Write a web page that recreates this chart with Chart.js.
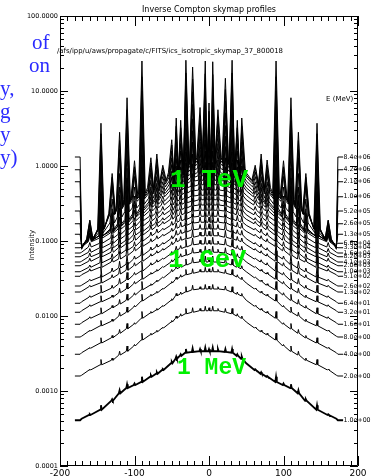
<!DOCTYPE html>
<html>
<head>
<meta charset="utf-8">
<script src="https://cdn.jsdelivr.net/npm/chart.js@4.4.1/dist/chart.umd.min.js"></script>
<style>
  html, body { margin: 0; padding: 0; background: #fff; }
  #wrap { position: relative; width: 371px; height: 476px; overflow: hidden; }
  #wrap canvas { position: absolute; left: 0; top: 0; }
  .blue { position: absolute; font-family: "Liberation Serif", serif; font-size: 21px; line-height: 21px; color: #2a2aff; white-space: nowrap; }
  .green { position: absolute; font-family: "Liberation Mono", monospace; font-weight: bold; font-size: 26px; line-height: 26px; color: #00f000; white-space: nowrap; }
</style>
</head>
<body>
<div id="wrap">
  <canvas id="chart" width="371" height="476"></canvas>
  <div class="blue" style="left:32px; top:32px;">of</div>
  <div class="blue" style="left:29px; top:55px;">on</div>
  <div class="blue" style="left:0px; top:78px;">y,</div>
  <div class="blue" style="left:0px; top:101px;">g</div>
  <div class="blue" style="left:0px; top:124px;">y</div>
  <div class="blue" style="left:0px; top:147px;">y)</div>
  <div class="green" style="left:170px; top:167px;">1 TeV</div>
  <div class="green" style="left:168px; top:247px;">1 GeV</div>
  <div class="green" style="left:177px; top:357px; font-size:23px; line-height:23px;">1 MeV</div>
</div>
<script>
// longitude grid shared by every profile (deg)
const LON = [-180,-173,-171,-160,-145,-130,-120,-110,-100,-90,-78,-70,-62,-50,-44,-38,-31,-22,-12,-5,0,
             5,12,22,31,38,44,50,62,70,78,90,100,110,120,130,145,160,171,173,180];
// longitudes of the narrow source spikes (all on LON)
const SPIKE_LON = [-160,-145,-130,-120,-110,-100,-90,-78,-70,-62,-50,-44,-38,-31,-22,-12,-5,0,
                   5,12,22,31,38,44,62,70,78,90,100,110,120,130,145,160];

const ENERGY_LABELS = ['1.0e+00','2.0e+00','4.0e+00','8.0e+00','1.6e+01','3.2e+01','6.4e+01','1.3e+02',
  '2.6e+02','5.1e+02','1.0e+03','2.0e+03','4.1e+03','8.2e+03','1.6e+04','3.3e+04','6.6e+04','1.3e+05',
  '2.6e+05','5.2e+05','1.0e+06','2.1e+06','4.2e+06','8.4e+06'];

const X_TICKS = [-200, -100, 0, 100, 200];
const Y_TICKS = [0.0001, 0.001, 0.01, 0.1, 1, 10, 100];

// log10(intensity) of each profile on LON
const base00 = [-3.39,-3.39,-3.37,-3.32,-3.25,-3.13,-3.03,-2.96,-2.92,-2.88,-2.81,-2.77,-2.72,-2.63,-2.57,-2.53,-2.49,-2.48,-2.47,-2.47,-2.47,-2.47,-2.47,-2.48,-2.49,-2.53,-2.57,-2.63,-2.72,-2.77,-2.81,-2.88,-2.92,-2.96,-3.03,-3.13,-3.25,-3.32,-3.37,-3.39,-3.39];
const base01 = [-2.80,-2.80,-2.79,-2.72,-2.65,-2.59,-2.52,-2.47,-2.40,-2.32,-2.25,-2.21,-2.16,-2.08,-2.03,-2.00,-1.97,-1.95,-1.93,-1.93,-1.93,-1.93,-1.93,-1.95,-1.97,-2.00,-2.03,-2.08,-2.16,-2.21,-2.25,-2.32,-2.40,-2.47,-2.52,-2.59,-2.65,-2.72,-2.79,-2.80,-2.80];
const base02 = [-2.51,-2.51,-2.49,-2.43,-2.36,-2.29,-2.23,-2.17,-2.11,-2.03,-1.96,-1.92,-1.87,-1.79,-1.73,-1.71,-1.68,-1.65,-1.64,-1.64,-1.64,-1.64,-1.64,-1.65,-1.68,-1.71,-1.73,-1.79,-1.87,-1.92,-1.96,-2.03,-2.11,-2.17,-2.23,-2.29,-2.36,-2.43,-2.49,-2.51,-2.51];
const base03 = [-2.28,-2.28,-2.27,-2.20,-2.13,-2.07,-2.00,-1.95,-1.88,-1.80,-1.73,-1.69,-1.64,-1.56,-1.51,-1.48,-1.45,-1.43,-1.41,-1.41,-1.41,-1.41,-1.41,-1.43,-1.45,-1.48,-1.51,-1.56,-1.64,-1.69,-1.73,-1.80,-1.88,-1.95,-2.00,-2.07,-2.13,-2.20,-2.27,-2.28,-2.28];
const base04 = [-2.11,-2.11,-2.09,-2.03,-1.97,-1.89,-1.84,-1.79,-1.72,-1.65,-1.59,-1.54,-1.49,-1.41,-1.37,-1.35,-1.32,-1.29,-1.28,-1.28,-1.28,-1.28,-1.28,-1.29,-1.32,-1.35,-1.37,-1.41,-1.49,-1.54,-1.59,-1.65,-1.72,-1.79,-1.84,-1.89,-1.97,-2.03,-2.09,-2.11,-2.11];
const base05 = [-1.95,-1.95,-1.93,-1.87,-1.81,-1.75,-1.69,-1.64,-1.57,-1.51,-1.44,-1.40,-1.35,-1.28,-1.23,-1.21,-1.19,-1.16,-1.15,-1.15,-1.15,-1.15,-1.15,-1.16,-1.19,-1.21,-1.23,-1.28,-1.35,-1.40,-1.44,-1.51,-1.57,-1.64,-1.69,-1.75,-1.81,-1.87,-1.93,-1.95,-1.95];
const base06 = [-1.83,-1.83,-1.81,-1.75,-1.69,-1.63,-1.57,-1.52,-1.45,-1.40,-1.32,-1.28,-1.24,-1.17,-1.12,-1.10,-1.08,-1.05,-1.04,-1.04,-1.04,-1.04,-1.04,-1.05,-1.08,-1.10,-1.12,-1.17,-1.24,-1.28,-1.32,-1.40,-1.45,-1.52,-1.57,-1.63,-1.69,-1.75,-1.81,-1.83,-1.83];
const base07 = [-1.68,-1.68,-1.67,-1.61,-1.56,-1.49,-1.44,-1.39,-1.33,-1.27,-1.20,-1.16,-1.12,-1.05,-1.01,-0.99,-0.97,-0.95,-0.93,-0.93,-0.93,-0.93,-0.93,-0.95,-0.97,-0.99,-1.01,-1.05,-1.12,-1.16,-1.20,-1.27,-1.33,-1.39,-1.44,-1.49,-1.56,-1.61,-1.67,-1.68,-1.68];
const base08 = [-1.60,-1.60,-1.59,-1.53,-1.48,-1.41,-1.36,-1.31,-1.24,-1.19,-1.12,-1.08,-1.04,-0.97,-0.92,-0.90,-0.88,-0.85,-0.84,-0.84,-0.84,-0.84,-0.84,-0.85,-0.88,-0.90,-0.92,-0.97,-1.04,-1.08,-1.12,-1.19,-1.24,-1.31,-1.36,-1.41,-1.48,-1.53,-1.59,-1.60,-1.60];
const base09 = [-1.47,-1.47,-1.45,-1.40,-1.35,-1.28,-1.24,-1.19,-1.13,-1.07,-1.01,-0.97,-0.93,-0.87,-0.83,-0.81,-0.79,-0.76,-0.75,-0.75,-0.75,-0.75,-0.75,-0.76,-0.79,-0.81,-0.83,-0.87,-0.93,-0.97,-1.01,-1.07,-1.13,-1.19,-1.24,-1.28,-1.35,-1.40,-1.45,-1.47,-1.47];
const base10 = [-1.41,-1.41,-1.40,-1.35,-1.29,-1.23,-1.17,-1.12,-1.07,-1.00,-0.93,-0.89,-0.85,-0.79,-0.75,-0.73,-0.71,-0.68,-0.67,-0.67,-0.67,-0.67,-0.67,-0.68,-0.71,-0.73,-0.75,-0.79,-0.85,-0.89,-0.93,-1.00,-1.07,-1.12,-1.17,-1.23,-1.29,-1.35,-1.40,-1.41,-1.41];
const base11 = [-1.33,-1.33,-1.32,-1.27,-1.21,-1.15,-1.09,-1.04,-0.99,-0.92,-0.85,-0.81,-0.77,-0.71,-0.67,-0.65,-0.63,-0.60,-0.59,-0.59,-0.59,-0.59,-0.59,-0.60,-0.63,-0.65,-0.67,-0.71,-0.77,-0.81,-0.85,-0.92,-0.99,-1.04,-1.09,-1.15,-1.21,-1.27,-1.32,-1.33,-1.33];
const base12 = [-1.28,-1.28,-1.27,-1.21,-1.16,-1.09,-1.04,-0.99,-0.92,-0.87,-0.80,-0.76,-0.72,-0.65,-0.60,-0.58,-0.56,-0.53,-0.52,-0.52,-0.52,-0.52,-0.52,-0.53,-0.56,-0.58,-0.60,-0.65,-0.72,-0.76,-0.80,-0.87,-0.92,-0.99,-1.04,-1.09,-1.16,-1.21,-1.27,-1.28,-1.28];
const base13 = [-1.21,-1.21,-1.20,-1.15,-1.09,-1.03,-0.97,-0.92,-0.85,-0.80,-0.73,-0.69,-0.65,-0.59,-0.53,-0.51,-0.49,-0.47,-0.45,-0.45,-0.45,-0.45,-0.45,-0.47,-0.49,-0.51,-0.53,-0.59,-0.65,-0.69,-0.73,-0.80,-0.85,-0.92,-0.97,-1.03,-1.09,-1.15,-1.20,-1.21,-1.21];
const base14 = [-1.16,-1.16,-1.15,-1.08,-1.03,-0.96,-0.91,-0.85,-0.80,-0.73,-0.67,-0.63,-0.59,-0.52,-0.47,-0.45,-0.43,-0.40,-0.39,-0.39,-0.39,-0.39,-0.39,-0.40,-0.43,-0.45,-0.47,-0.52,-0.59,-0.63,-0.67,-0.73,-0.80,-0.85,-0.91,-0.96,-1.03,-1.08,-1.15,-1.16,-1.16];
const base15 = [-1.09,-1.09,-1.08,-1.01,-0.96,-0.89,-0.84,-0.79,-0.73,-0.67,-0.60,-0.56,-0.52,-0.45,-0.40,-0.38,-0.36,-0.33,-0.32,-0.32,-0.32,-0.32,-0.32,-0.33,-0.36,-0.38,-0.40,-0.45,-0.52,-0.56,-0.60,-0.67,-0.73,-0.79,-0.84,-0.89,-0.96,-1.01,-1.08,-1.09,-1.09];
const base16 = [-1.03,-1.03,-1.05,-0.99,-0.93,-0.87,-0.80,-0.75,-0.68,-0.63,-0.55,-0.51,-0.47,-0.39,-0.35,-0.32,-0.29,-0.27,-0.25,-0.25,-0.25,-0.25,-0.25,-0.27,-0.29,-0.32,-0.35,-0.39,-0.47,-0.51,-0.55,-0.63,-0.68,-0.75,-0.80,-0.87,-0.93,-0.99,-1.05,-1.03,-1.03];
const base17 = [-0.91,-0.91,-1.07,-1.00,-0.93,-0.85,-0.80,-0.73,-0.67,-0.59,-0.51,-0.46,-0.41,-0.33,-0.28,-0.26,-0.23,-0.20,-0.19,-0.19,-0.19,-0.19,-0.19,-0.20,-0.23,-0.26,-0.28,-0.33,-0.41,-0.46,-0.51,-0.59,-0.67,-0.73,-0.80,-0.85,-0.93,-1.00,-1.07,-0.91,-0.91];
const base18 = [-0.77,-0.77,-1.07,-0.99,-0.93,-0.84,-0.77,-0.71,-0.64,-0.56,-0.48,-0.43,-0.37,-0.29,-0.24,-0.22,-0.19,-0.15,-0.13,-0.13,-0.13,-0.13,-0.13,-0.15,-0.19,-0.22,-0.24,-0.29,-0.37,-0.43,-0.48,-0.56,-0.64,-0.71,-0.77,-0.84,-0.93,-0.99,-1.07,-0.77,-0.77];
const base19 = [-0.60,-0.60,-1.08,-0.99,-0.89,-0.76,-0.68,-0.61,-0.56,-0.51,-0.43,-0.38,-0.33,-0.24,-0.19,-0.16,-0.13,-0.11,-0.08,-0.08,-0.08,-0.08,-0.08,-0.11,-0.13,-0.16,-0.19,-0.24,-0.33,-0.38,-0.43,-0.51,-0.56,-0.61,-0.68,-0.76,-0.89,-0.99,-1.08,-0.60,-0.60];
const base20 = [-0.41,-0.41,-1.08,-0.97,-0.85,-0.65,-0.57,-0.51,-0.47,-0.44,-0.37,-0.33,-0.28,-0.20,-0.15,-0.12,-0.08,-0.05,-0.03,-0.03,-0.03,-0.03,-0.03,-0.05,-0.08,-0.12,-0.15,-0.20,-0.28,-0.33,-0.37,-0.44,-0.47,-0.51,-0.57,-0.65,-0.85,-0.97,-1.08,-0.41,-0.41];
const base21 = [-0.21,-0.21,-1.09,-0.99,-0.85,-0.64,-0.56,-0.49,-0.44,-0.41,-0.35,-0.30,-0.24,-0.15,-0.09,-0.06,-0.03,0.00,0.03,0.03,0.03,0.03,0.03,0.00,-0.03,-0.06,-0.09,-0.15,-0.24,-0.30,-0.35,-0.41,-0.44,-0.49,-0.56,-0.64,-0.85,-0.99,-1.09,-0.21,-0.21];
const base22 = [-0.05,-0.05,-1.09,-0.97,-0.84,-0.63,-0.53,-0.47,-0.43,-0.39,-0.32,-0.27,-0.21,-0.12,-0.07,-0.03,0.01,0.04,0.07,0.07,0.07,0.07,0.07,0.04,0.01,-0.03,-0.07,-0.12,-0.21,-0.27,-0.32,-0.39,-0.43,-0.47,-0.53,-0.63,-0.84,-0.97,-1.09,-0.05,-0.05];
const base23 = [0.12,0.12,-1.11,-0.99,-0.84,-0.63,-0.52,-0.45,-0.40,-0.36,-0.29,-0.24,-0.19,-0.09,-0.03,0.01,0.04,0.08,0.11,0.11,0.11,0.11,0.11,0.08,0.04,0.01,-0.03,-0.09,-0.19,-0.24,-0.29,-0.36,-0.40,-0.45,-0.52,-0.63,-0.84,-0.99,-1.11,0.12,0.12];

// rise of each spike above its profile (decades), on SPIKE_LON
const rise00 = [0.01,0.06,0.02,0.04,0.05,0.02,0.07,0.02,0.02,0.01,0.02,0.03,0.02,0.05,0.05,0.03,0.05,0.03,0.05,0.03,0.04,0.05,0.02,0.03,0.01,0.02,0.01,0.07,0.02,0.05,0.04,0.02,0.06,0.01];
const rise01 = [0.01,0.07,0.03,0.05,0.07,0.02,0.09,0.02,0.02,0.01,0.02,0.03,0.03,0.07,0.06,0.03,0.06,0.04,0.06,0.03,0.05,0.07,0.03,0.03,0.01,0.02,0.02,0.09,0.02,0.07,0.05,0.03,0.07,0.01];
const rise02 = [0.01,0.07,0.03,0.05,0.07,0.02,0.09,0.02,0.02,0.01,0.02,0.03,0.03,0.07,0.06,0.03,0.06,0.04,0.06,0.03,0.05,0.07,0.03,0.03,0.01,0.02,0.02,0.09,0.02,0.07,0.05,0.03,0.07,0.01];
const rise03 = [0.01,0.07,0.03,0.05,0.07,0.02,0.09,0.02,0.02,0.01,0.02,0.03,0.03,0.07,0.06,0.03,0.06,0.04,0.06,0.03,0.05,0.07,0.03,0.03,0.01,0.02,0.02,0.09,0.02,0.07,0.05,0.03,0.07,0.01];
const rise04 = [0.02,0.08,0.03,0.06,0.08,0.03,0.11,0.02,0.02,0.01,0.03,0.04,0.04,0.08,0.07,0.04,0.08,0.04,0.08,0.04,0.07,0.08,0.04,0.04,0.01,0.02,0.02,0.11,0.03,0.08,0.06,0.03,0.08,0.02];
const rise05 = [0.02,0.08,0.03,0.06,0.08,0.03,0.11,0.02,0.02,0.01,0.03,0.04,0.04,0.08,0.07,0.04,0.08,0.04,0.08,0.04,0.07,0.08,0.04,0.04,0.01,0.02,0.02,0.11,0.03,0.08,0.06,0.03,0.08,0.02];
const rise06 = [0.02,0.10,0.04,0.07,0.10,0.03,0.12,0.03,0.03,0.01,0.03,0.05,0.04,0.10,0.09,0.05,0.09,0.05,0.09,0.04,0.08,0.10,0.04,0.05,0.01,0.03,0.03,0.12,0.03,0.10,0.07,0.04,0.10,0.02];
const rise07 = [0.02,0.11,0.04,0.08,0.11,0.04,0.14,0.03,0.03,0.02,0.04,0.05,0.05,0.11,0.10,0.05,0.10,0.06,0.10,0.05,0.09,0.11,0.05,0.05,0.02,0.03,0.03,0.14,0.04,0.11,0.08,0.04,0.11,0.02];
const rise08 = [0.02,0.13,0.05,0.09,0.12,0.04,0.16,0.04,0.04,0.02,0.04,0.06,0.05,0.12,0.11,0.06,0.12,0.07,0.12,0.06,0.10,0.12,0.05,0.06,0.02,0.04,0.03,0.16,0.04,0.12,0.09,0.05,0.13,0.02];
const rise09 = [0.03,0.14,0.05,0.10,0.14,0.05,0.18,0.04,0.04,0.02,0.04,0.07,0.06,0.14,0.12,0.07,0.13,0.07,0.13,0.06,0.11,0.14,0.06,0.07,0.02,0.04,0.04,0.18,0.05,0.14,0.10,0.05,0.14,0.03];
const rise10 = [0.03,0.17,0.06,0.12,0.16,0.06,0.21,0.05,0.05,0.02,0.05,0.08,0.07,0.16,0.15,0.08,0.15,0.09,0.15,0.08,0.13,0.16,0.07,0.08,0.02,0.05,0.04,0.21,0.06,0.16,0.12,0.06,0.17,0.03];
const rise11 = [0.04,0.20,0.07,0.14,0.19,0.07,0.25,0.06,0.06,0.03,0.06,0.09,0.08,0.19,0.17,0.09,0.18,0.10,0.18,0.09,0.15,0.19,0.08,0.09,0.03,0.06,0.05,0.25,0.07,0.19,0.14,0.07,0.20,0.04];
const rise12 = [0.05,0.24,0.09,0.16,0.23,0.08,0.30,0.07,0.07,0.03,0.07,0.11,0.10,0.23,0.21,0.11,0.22,0.12,0.22,0.11,0.19,0.23,0.10,0.11,0.03,0.07,0.06,0.30,0.08,0.23,0.16,0.09,0.24,0.05];
const rise13 = [0.05,0.28,0.11,0.19,0.27,0.09,0.35,0.08,0.08,0.04,0.09,0.13,0.12,0.27,0.25,0.13,0.26,0.15,0.26,0.13,0.22,0.27,0.12,0.13,0.04,0.08,0.07,0.35,0.09,0.27,0.19,0.11,0.28,0.05];
const rise14 = [0.06,0.34,0.13,0.23,0.33,0.11,0.42,0.10,0.10,0.05,0.11,0.16,0.14,0.33,0.30,0.16,0.31,0.18,0.31,0.15,0.26,0.33,0.14,0.16,0.05,0.10,0.09,0.42,0.11,0.33,0.23,0.13,0.34,0.06];
const rise15 = [0.08,0.41,0.15,0.28,0.39,0.14,0.51,0.12,0.12,0.06,0.13,0.19,0.17,0.40,0.36,0.19,0.37,0.21,0.37,0.19,0.32,0.40,0.17,0.19,0.06,0.12,0.11,0.51,0.14,0.39,0.28,0.15,0.41,0.08];
const rise16 = [0.09,0.49,0.19,0.34,0.48,0.16,0.62,0.14,0.14,0.07,0.15,0.23,0.21,0.48,0.43,0.23,0.45,0.26,0.45,0.22,0.38,0.48,0.21,0.23,0.07,0.14,0.13,0.62,0.16,0.48,0.34,0.19,0.49,0.09];
const rise17 = [0.11,0.59,0.22,0.41,0.57,0.20,0.74,0.17,0.17,0.08,0.18,0.28,0.25,0.58,0.52,0.28,0.54,0.31,0.54,0.27,0.46,0.58,0.25,0.28,0.08,0.17,0.16,0.74,0.20,0.57,0.41,0.22,0.59,0.11];
const rise18 = [0.14,0.71,0.27,0.49,0.68,0.24,0.88,0.20,0.20,0.10,0.22,0.34,0.30,0.69,0.62,0.34,0.65,0.37,0.64,0.32,0.55,0.69,0.30,0.34,0.10,0.20,0.19,0.88,0.24,0.68,0.49,0.27,0.71,0.14];
const rise19 = [0.16,0.85,0.32,0.58,0.82,0.28,1.06,0.24,0.24,0.12,0.26,0.40,0.36,0.82,0.74,0.40,0.77,0.44,0.77,0.38,0.65,0.82,0.36,0.40,0.12,0.24,0.22,1.06,0.28,0.82,0.58,0.32,0.85,0.16];
const rise20 = [0.19,0.99,0.37,0.68,0.95,0.33,1.23,0.28,0.28,0.14,0.31,0.47,0.42,0.96,0.87,0.47,0.90,0.51,0.90,0.45,0.76,0.96,0.42,0.47,0.14,0.28,0.26,1.23,0.33,0.95,0.68,0.37,0.99,0.19];
const rise21 = [0.22,1.13,0.42,0.78,1.09,0.38,1.41,0.32,0.32,0.16,0.35,0.54,0.48,1.10,0.99,0.54,1.03,0.58,1.02,0.51,0.87,1.10,0.48,0.54,0.16,0.32,0.30,1.41,0.38,1.09,0.78,0.42,1.13,0.22];
const rise22 = [0.24,1.27,0.48,0.87,1.22,0.42,1.58,0.36,0.36,0.18,0.40,0.60,0.54,1.23,1.12,0.60,1.16,0.66,1.15,0.58,0.98,1.23,0.54,0.60,0.18,0.36,0.33,1.58,0.42,1.22,0.87,0.48,1.27,0.24];
const rise23 = [0.27,1.41,0.53,0.97,1.36,0.47,1.76,0.40,0.40,0.20,0.44,0.67,0.60,1.37,1.24,0.67,1.29,0.73,1.28,0.64,1.09,1.37,0.60,0.67,0.20,0.40,0.37,1.76,0.47,1.36,0.97,0.53,1.41,0.27];

const BASES = [base00,base01,base02,base03,base04,base05,base06,base07,base08,base09,base10,base11,
               base12,base13,base14,base15,base16,base17,base18,base19,base20,base21,base22,base23];
const RISES = [rise00,rise01,rise02,rise03,rise04,rise05,rise06,rise07,rise08,rise09,rise10,rise11,
               rise12,rise13,rise14,rise15,rise16,rise17,rise18,rise19,rise20,rise21,rise22,rise23];

// drawing style: half width of a spike foot (deg)
const SPIKE_HALF = [1,1,1,1,1.1,1.1,1.2,1.2,1.3,1.3,1.4,1.5,1.6,1.7,1.8,2,2.2,2.4,2.7,3,3.3,3.6,4,4.5];

function buildProfile(base, rise, halfWidth) {
    const pts = [];
    LON.forEach((lon, j) => {
        const y = Math.pow(10, base[j]);
        const k = SPIKE_LON.indexOf(lon);
        if (k < 0) {
            pts.push({ x: lon, y: y });
            return;
        }
        const prev = LON[j - 1], next = LON[j + 1];
        const wl = Math.min(halfWidth, (lon - prev) * (SPIKE_LON.includes(prev) ? 0.45 : 0.85));
        const wr = Math.min(halfWidth, (next - lon) * (SPIKE_LON.includes(next) ? 0.45 : 0.85));
        pts.push({ x: lon - wl, y: y },
                 { x: lon, y: Math.pow(10, base[j] + rise[k]) },
                 { x: lon + wr, y: y });
    });
    return pts;
}

const datasets = BASES.map((base, i) => ({
    label: ENERGY_LABELS[i],
    data: buildProfile(base, RISES[i], SPIKE_HALF[i]),
    showLine: true,
    borderColor: '#000',
    borderWidth: i === 0 ? 1.8 : 1,
    pointRadius: 0,
    fill: false,
    tension: 0
}));

// IDL style frame: box with inward ticks on all four sides, plus the texts
const idlFrame = {
    id: 'idlFrame',
    afterDatasetsDraw(chart) {
        const { ctx, chartArea: a, scales } = chart;
        const xs = scales.x, ys = scales.y;
        ctx.save();
        ctx.strokeStyle = '#000';
        ctx.lineWidth = 1;
        ctx.beginPath();
        ctx.rect(a.left + 0.5, a.top + 0.5, a.right - a.left - 1, a.bottom - a.top - 1);
        for (let v = -200; v <= 200; v += 10) {
            const px = Math.round(xs.getPixelForValue(v)) + 0.5;
            const len = v % 100 === 0 ? 10 : 5;
            ctx.moveTo(px, a.bottom); ctx.lineTo(px, a.bottom - len);
            ctx.moveTo(px, a.top); ctx.lineTo(px, a.top + len);
        }
        for (let e = -4; e <= 2; e++) {
            for (let m = 1; m <= 9; m++) {
                const v = m * Math.pow(10, e);
                if (v > 100.001) break;
                const py = Math.round(ys.getPixelForValue(v)) + 0.5;
                const len = m === 1 ? 8 : 4;
                ctx.moveTo(a.left, py); ctx.lineTo(a.left + len, py);
                ctx.moveTo(a.right, py); ctx.lineTo(a.right - len, py);
            }
        }
        ctx.stroke();

        ctx.fillStyle = '#000';
        ctx.textBaseline = 'middle';
        ctx.textAlign = 'center';
        ctx.font = '8px "DejaVu Sans"';
        ctx.fillText('Inverse Compton skymap profiles', (a.left + a.right) / 2, 10, 136);

        ctx.textAlign = 'left';
        ctx.font = '7px "DejaVu Sans"';
        ctx.fillText('/afs/ipp/u/aws/propagate/c/FITS/ics_isotropic_skymap_37_800018', 57, 51, 226);
        ctx.fillText('E (MeV)', 326, 99, 36);

        // energy of each profile written at its right end
        ctx.font = '6.5px "DejaVu Sans"';
        const xEnd = xs.getPixelForValue(LON[LON.length - 1]) + 0.5;
        BASES.forEach((b, i) => {
            ctx.fillText(ENERGY_LABELS[i], xEnd, ys.getPixelForValue(Math.pow(10, b[b.length - 1])), 27);
        });

        ctx.translate(32, 245);
        ctx.rotate(-Math.PI / 2);
        ctx.textAlign = 'center';
        ctx.font = '7px "DejaVu Sans"';
        ctx.fillText('Intensity', 0, 0);
        ctx.restore();
    }
};

new Chart(document.getElementById('chart'), {
    type: 'scatter',
    data: { datasets },
    options: {
        responsive: false,
        animation: false,
        devicePixelRatio: 1,
        layout: { padding: { left: 0, right: 13, top: 16, bottom: 0 } },
        plugins: { legend: { display: false }, tooltip: { enabled: false }, title: { display: false } },
        scales: {
            x: {
                type: 'linear',
                min: -200,
                max: 200,
                afterBuildTicks: (scale) => { scale.ticks = X_TICKS.map(v => ({ value: v })); },
                afterFit: (scale) => { scale.height = 10; },
                grid: { display: false, drawTicks: false },
                border: { display: false },
                ticks: {
                    autoSkip: false, maxRotation: 0, padding: 2, color: '#000',
                    font: { family: 'DejaVu Sans', size: 9 },
                    callback: (v) => String(v)
                }
            },
            y: {
                type: 'logarithmic',
                min: 0.0001,
                max: 100,
                afterBuildTicks: (scale) => { scale.ticks = Y_TICKS.map(v => ({ value: v })); },
                afterFit: (scale) => { scale.width = 60; },
                grid: { display: false, drawTicks: false },
                border: { display: false },
                ticks: {
                    autoSkip: false, padding: 2, color: '#000',
                    font: { family: 'DejaVu Sans', size: 6.5 },
                    callback: (v) => Number(v).toFixed(4)
                }
            }
        }
    },
    plugins: [idlFrame]
});
</script>
</body>
</html>
